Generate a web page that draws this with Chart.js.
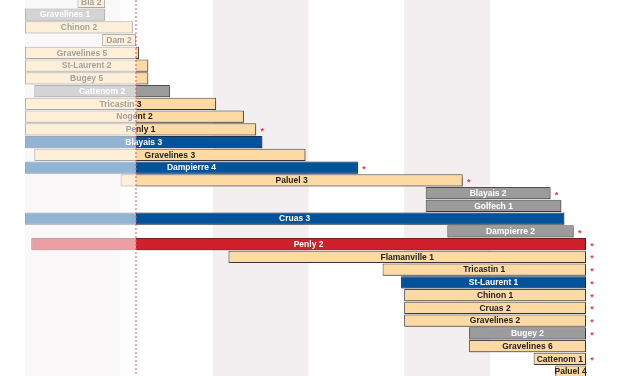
<!DOCTYPE html>
<html lang="fr">
<head>
    <meta charset="UTF-8">
    <title>Arrêts de réacteurs</title>
    <script src="https://cdn.jsdelivr.net/npm/chart.js"></script>
    <style>
        body { margin: 0; background: #fff; }
        canvas { display: block; }
    </style>
</head>
<body>
    <canvas id="outageChart" width="627" height="376"></canvas>
    <script>
        // Reactors, top to bottom (days counted from 1 October)
        const reactors = ['Bla 2', 'Gravelines 1', 'Chinon 2', 'Dam 2', 'Gravelines 5', 'St-Laurent 2', 'Bugey 5',
            'Cattenom 2', 'Tricastin 3', 'Nogent 2', 'Penly 1', 'Blayais 3', 'Gravelines 3', 'Dampierre 4',
            'Paluel 3', 'Blayais 2', 'Golfech 1', 'Cruas 3', 'Dampierre 2', 'Penly 2', 'Flamanville 1',
            'Tricastin 1', 'St-Laurent 1', 'Chinon 1', 'Cruas 2', 'Gravelines 2', 'Bugey 2', 'Gravelines 6',
            'Cattenom 1', 'Paluel 4'];
        const startDay = [17, 0, 0, 25, 0, 0, 0, 3, 0, 0, 0, 0, 3, 0, 31, 130, 130, 0, 137, 2, 66,
            116, 122, 123, 123, 123, 144, 144, 165, 172];
        const endDay = [26, 26, 35, 36, 37, 40, 40, 47, 62, 71, 75, 77, 91, 108, 142, 170.5, 174, 175, 178, 182, 182,
            182, 182, 182, 182, 182, 182, 182, 182, 182];
        // kind of outage: o = orange, b = blue, g = grey, r = red
        const kind = ['o', 'g', 'o', 'o', 'o', 'o', 'o', 'g', 'o', 'o', 'o', 'b', 'o', 'b', 'o', 'g', 'g', 'b', 'g', 'r',
            'o', 'o', 'b', 'o', 'o', 'o', 'g', 'o', 'o', 'o'];
        const flagged = [0, 0, 0, 0, 0, 0, 0, 0, 0, 0, 1, 0, 0, 1, 1, 1, 0, 0, 1, 1, 1, 1, 1, 1, 1, 1, 1, 0, 1, 0];
        // month bands (Oct, Dec, Feb) and today
        const bandStarts = [0, 61, 123];
        const bandEnds = [31, 92, 151];
        const today = 36;

        const fillColors = { o: '#fddaa4', b: '#00539b', g: '#9b9b9b', r: '#d0202c' };
        const lineColors = { o: '#4d4d4d', b: '#1c2f4a', g: '#4d4d4d', r: '#7a1a1f' };
        const textColors = { o: '#222222', b: '#ffffff', g: '#ffffff', r: '#ffffff' };
        const labelFont = 'bold 8.5px "Liberation Sans", Arial, sans-serif';

        const ganttDecor = {
            id: 'ganttDecor',
            beforeDatasetsDraw(chart) {
                const { ctx, chartArea: a, scales: { x } } = chart;
                ctx.save();
                ctx.fillStyle = '#f3eff1';
                bandStarts.forEach((s, i) => {
                    const x0 = x.getPixelForValue(s);
                    const x1 = x.getPixelForValue(bandEnds[i]);
                    ctx.fillRect(x0, a.top, x1 - x0, a.bottom - a.top);
                });
                ctx.restore();
                // soft shadow under the bars
                ctx.save();
                ctx.shadowColor = 'rgba(0,0,0,0.3)';
                ctx.shadowOffsetX = 1;
                ctx.shadowOffsetY = 1;
                ctx.shadowBlur = 1;
            },
            afterDatasetsDraw(chart) {
                const { ctx, chartArea: a, scales: { x } } = chart;
                ctx.restore();
                const meta = chart.getDatasetMeta(0);
                ctx.save();
                ctx.beginPath();
                ctx.rect(a.left, a.top, a.right - a.left, a.bottom - a.top);
                ctx.clip();
                ctx.textBaseline = 'middle';
                ctx.textAlign = 'center';
                meta.data.forEach((bar, i) => {
                    const left = Math.max(Math.min(bar.x, bar.base), a.left);
                    const right = Math.max(bar.x, bar.base);
                    ctx.font = labelFont;
                    ctx.fillStyle = textColors[kind[i]];
                    ctx.fillText(reactors[i], (left + right) / 2, bar.y + 0.5);
                    if (flagged[i]) {
                        ctx.fillStyle = '#e23a4c';
                        ctx.font = 'bold 9px "Liberation Sans", Arial, sans-serif';
                        ctx.fillText('*', right + 6, bar.y + 2);
                    }
                });
                // past is washed out
                const xt = x.getPixelForValue(today);
                ctx.fillStyle = 'rgba(255,255,255,0.57)';
                ctx.fillRect(a.left, a.top, xt - a.left, a.bottom - a.top);
                ctx.restore();
                // today line
                ctx.save();
                ctx.strokeStyle = 'rgba(232,90,100,0.8)';
                ctx.lineWidth = 1.3;
                ctx.setLineDash([2, 2]);
                ctx.beginPath();
                ctx.moveTo(xt, a.top);
                ctx.lineTo(xt, a.bottom);
                ctx.stroke();
                ctx.restore();
            }
        };

        const ctx = document.getElementById('outageChart').getContext('2d');
        new Chart(ctx, {
            type: 'bar',
            data: {
                datasets: [{
                    data: reactors.map((r, i) => ({ x: [startDay[i], endDay[i]], y: i })),
                    backgroundColor: kind.map(k => fillColors[k]),
                    borderColor: kind.map(k => lineColors[k]),
                    borderWidth: 1,
                    borderSkipped: false,
                    barPercentage: 0.96,
                    categoryPercentage: 1
                }]
            },
            options: {
                indexAxis: 'y',
                responsive: false,
                animation: false,
                layout: { padding: { left: 25, right: 0, top: 0, bottom: 0 } },
                plugins: { legend: { display: false }, tooltip: { enabled: false } },
                scales: {
                    x: { type: 'linear', min: 0, max: 195.3, display: false, offset: false },
                    y: { type: 'linear', reverse: true, min: -0.141, max: 29.35, display: false, offset: false }
                }
            },
            plugins: [ganttDecor]
        });
    </script>
</body>
</html>
